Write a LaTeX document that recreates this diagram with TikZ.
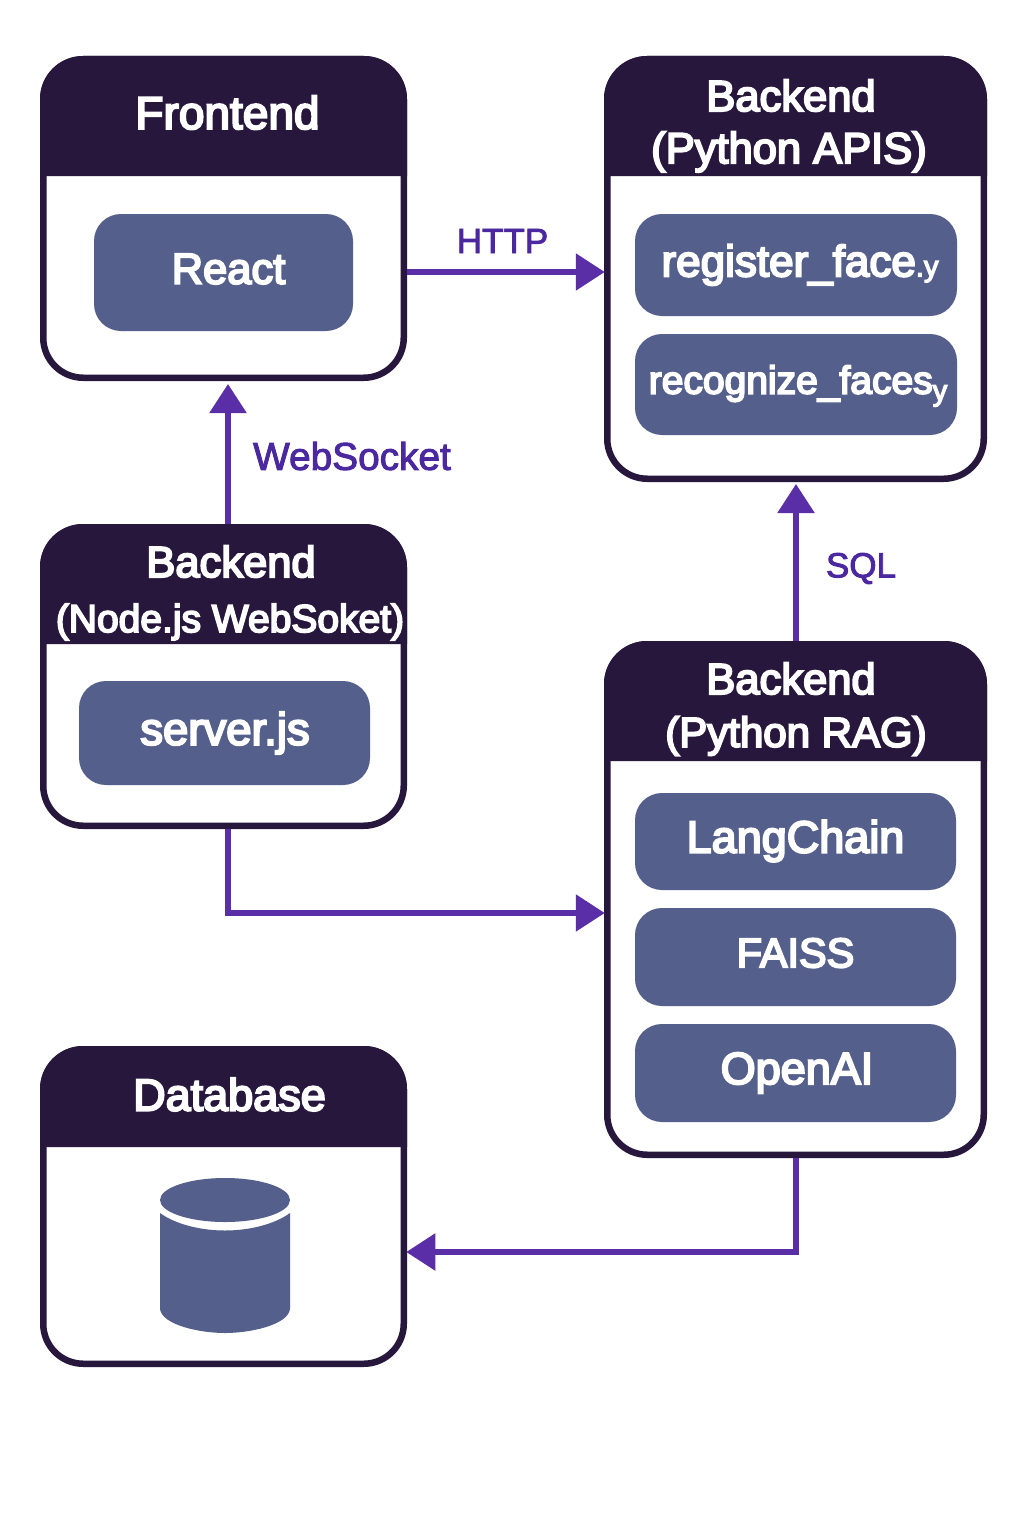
\documentclass[tikz,border=0pt]{standalone}
\usepackage{fontspec}
\setmainfont{Liberation Sans}
\newfontfamily\medf[FakeBold=4.5]{Liberation Sans}
\newfontfamily\labf[FakeBold=2.5]{Liberation Sans}
\usetikzlibrary{arrows.meta}
\definecolor{headc}{HTML}{27173D}
\definecolor{innerc}{HTML}{545F8C}
\definecolor{arrowc}{HTML}{5A2EA6}
\definecolor{labelc}{HTML}{4C28A0}
\tikzset{
  panelbox/.style={draw=headc,line width=6.5pt,fill=white,rounded corners=40pt,inner sep=0pt,outer sep=0pt},
  innerbox/.style={fill=innerc,rounded corners=27pt,inner sep=0pt,outer sep=0pt,text=white},
  headtext/.style={text=white,inner sep=0pt,outer sep=0pt,align=center},
  linklabel/.style={text=labelc,inner sep=0pt,outer sep=0pt},
  link/.style={draw=arrowc,line width=5.5pt,-{Triangle[length=29pt,width=36pt]}},
}
\newcommand{\fs}[1]{\fontsize{#1}{#1}\selectfont}
% name, x0 (mid stroke), y0, x1, y1, header bottom
\newcommand{\panel}[6]{%
  \node[panelbox,minimum width={#4pt-#2pt},minimum height={#5pt-#3pt}] (#1) at ({(#2+#4)/2},{(#3+#5)/2}) {};
  \fill[headc] (#2-3.25,#6) {[rounded corners=43pt] -- (#2-3.25,#3-3.25) -- (#4+3.25,#3-3.25)} -- (#4+3.25,#6) -- cycle;
}
\begin{document}
\begin{tikzpicture}[x=1pt,y=-1pt]
\useasboundingbox (0,0) rectangle (1024,1536);
\fill[white] (0,0) rectangle (1024,1536);

\panel{front}{43.25}{59.25}{403.75}{377.75}{176}{}
\panel{api}{607.25}{59.25}{983.75}{478.75}{176}{}
\panel{ws}{43.25}{527.25}{403.75}{825.75}{644}{}
\panel{rag}{607.25}{644.25}{983.75}{1154.75}{761}{}
\panel{db}{43.25}{1049.25}{403.75}{1363.75}{1147}{}

\node[headtext,font=\medf\fs{46}] (frontT) at (227.5,112.5) {Frontend};
\node[headtext,font=\medf\fs{43.5}] (apiT1) at (791,95.5) {Backend};
\node[headtext,font=\medf\fs{43.5}] (apiT2) at (789,152) {(Python APIS)};
\node[headtext,font=\medf\fs{43.5}] (wsT1) at (231,561.5) {Backend};
\node[headtext,font=\medf\fs{39}] (wsT2) at (230,622) {(Node.js WebSoket)};
\node[headtext,font=\medf\fs{43.5}] (ragT1) at (791,678.5) {Backend};
\node[headtext,font=\medf\fs{42}] (ragT2) at (796,736) {(Python RAG)};
\node[headtext,font=\medf\fs{45}] (dbT) at (229.5,1094.5) {Database};

\node[innerbox,minimum width=259pt,minimum height=117pt] (react) at (223.5,272.5) {};
\node[text=white,inner sep=0pt,font=\medf\fs{43.5}] (reactT) at (228.5,269) {React};
\node[innerbox,minimum width=322pt,minimum height=102pt] (reg) at (796,265) {};
\node[text=white,inner sep=0pt,font=\medf\fs{44}] (regT) at (800,265) {register\_face{\fs{29}.y}};
\node[innerbox,minimum width=322pt,minimum height=101pt] (rec) at (796,384.5) {};
\node[text=white,inner sep=0pt,font=\medf\fs{39}] (recT) at (798,386) {recognize\_faces{\fs{29}\raisebox{-7pt}{y}}};
\node[innerbox,minimum width=291pt,minimum height=104pt] (srv) at (224.5,733) {};
\node[text=white,inner sep=0pt,font=\medf\fs{45.5}] (srvT) at (225,733) {server.js};
\node[innerbox,minimum width=321pt,minimum height=97pt] (lang) at (795.5,841.5) {};
\node[text=white,inner sep=0pt,font=\medf\fs{45}] (langT) at (795.5,841) {LangChain};
\node[innerbox,minimum width=321pt,minimum height=98pt] (faiss) at (795.5,957) {};
\node[text=white,inner sep=0pt,font=\medf\fs{41.5}] (faissT) at (795.5,953) {FAISS};
\node[innerbox,minimum width=321pt,minimum height=98pt] (openai) at (795.5,1073) {};
\node[text=white,inner sep=0pt,font=\medf\fs{45}] (openaiT) at (797,1073) {OpenAI};

% cylinder
\fill[innerc] (160,1213) .. controls (175,1224) and (200,1230.5) .. (225,1230.5) .. controls (250,1230.5) and (275,1224) .. (290,1213)
  -- (290,1309) .. controls (288,1325) and (250,1333) .. (225,1333) .. controls (200,1333) and (162,1325) .. (160,1309) -- cycle;
\fill[innerc] (225,1200) ellipse [x radius=65,y radius=22];

% connectors
\draw[link,shorten <=3.25pt,shorten >=2.5pt] ([yshift=-53.5pt]front.east) -- ([yshift=-3pt]api.west);
\draw[link,shorten <=3.25pt,shorten >=6.25pt] ([xshift=4.5pt]ws.north) -- ([xshift=4.5pt]front.south);
\draw[link,shorten <=3.25pt,shorten >=5.25pt] ([xshift=.5pt]rag.north) -- ([xshift=.5pt]api.south);
\draw[link,shorten <=3.25pt,shorten >=2.5pt] ([xshift=4.5pt]ws.south) |- ([yshift=-13.5pt]rag.west);
\draw[link,shorten <=3.25pt,shorten >=2.5pt] ([xshift=.5pt]rag.south) |- ([yshift=-45.5pt]db.east);

\node[linklabel,font=\labf\fs{35}] (httpL) at (502.5,241) {HTTP};
\node[linklabel,font=\labf\fs{38.8}] (wsL) at (352,456) {WebSocket};
\node[linklabel,font=\labf\fs{35}] (sqlL) at (861,568.5) {SQL};
\end{tikzpicture}
\end{document}
